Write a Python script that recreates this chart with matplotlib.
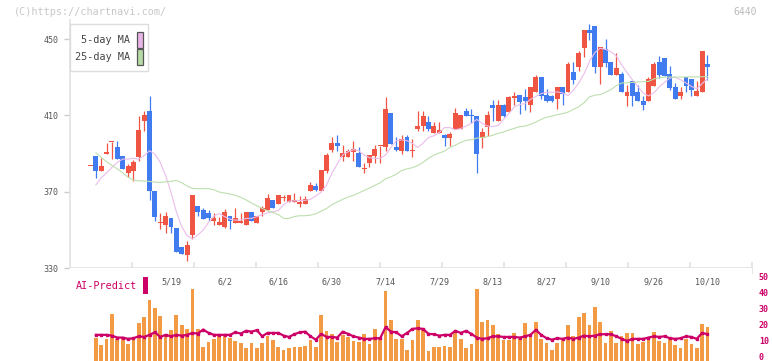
import numpy as np
import matplotlib
matplotlib.use("Agg")
import matplotlib.pyplot as plt
from matplotlib import transforms
from matplotlib.patches import Rectangle

plt.rcParams['font.family'] = ['DejaVu Sans Mono']

# candle data (oldest -> newest)
opens = [383.4, 388.7, 381.1, 390.0, 396.0, 393.4, 388.7, 380.0, 381.1, 388.3,
         407.1, 412.1, 370.5, 353.5, 352.5, 356.0, 350.8, 340.9, 336.6, 347.1,
         362.7, 360.5, 358.6, 354.6, 352.5, 351.7, 357.5, 353.5, 353.5, 352.5,
         359.5, 353.5, 359.2, 360.6, 365.8, 363.4, 366.7, 364.4, 364.4, 363.3,
         363.3, 370.2, 372.8, 370.2, 380.9, 392.0, 395.5, 388.3, 388.3, 391.0,
         390.3, 382.1, 385.1, 388.8, 393.7, 393.2, 411.0, 393.4, 391.1, 398.6,
         391.3, 402.7, 404.3, 406.4, 400.6, 400.6, 399.6, 398.1, 402.7, 402.7,
         412.1, 410.0, 409.5, 398.2, 403.9, 415.2, 406.9, 415.2, 411.7, 419.0,
         420.9, 419.4, 415.7, 422.5, 430.3, 420.9, 420.4, 418.8, 425.1, 422.5,
         432.9, 435.5, 445.3, 454.7, 456.8, 435.5, 444.8, 438.1, 431.3, 431.8,
         420.4, 428.2, 422.0, 417.3, 417.8, 425.6, 438.1, 440.1, 431.8, 425.1,
         419.9, 430.3, 429.2, 419.9, 422.5, 437.0]
highs = [383.4, 388.7, 387.7, 395.5, 396.3, 396.5, 388.7, 384.5, 386.5, 409.6,
         412.1, 420.4, 370.5, 358.9, 359.5, 356.0, 350.8, 340.9, 343.9, 368.4,
         362.7, 361.5, 360.6, 358.6, 356.5, 361.0, 357.5, 361.7, 358.6, 359.5,
         359.5, 357.5, 362.7, 369.0, 365.8, 368.4, 368.4, 368.4, 369.5, 367.8,
         367.8, 374.9, 374.8, 381.4, 390.4, 398.6, 399.6, 394.4, 392.5, 396.5,
         393.4, 385.1, 389.2, 394.4, 393.9, 419.4, 411.0, 398.6, 399.6, 399.6,
         397.5, 412.1, 412.1, 409.5, 406.4, 406.4, 400.1, 401.2, 414.1, 410.0,
         414.1, 413.1, 409.5, 403.2, 412.1, 418.3, 418.3, 416.2, 420.4, 422.0,
         420.9, 424.0, 425.1, 431.3, 430.3, 424.0, 420.9, 425.1, 425.1, 438.0,
         438.1, 443.8, 454.7, 457.8, 456.8, 445.8, 450.0, 438.1, 442.7, 432.9,
         426.1, 428.2, 426.1, 420.4, 430.3, 438.0, 441.2, 440.1, 436.0, 427.2,
         425.1, 430.3, 429.2, 428.2, 443.8, 441.7]
lows = [383.4, 377.3, 381.1, 390.0, 387.1, 387.1, 382.0, 377.8, 375.4, 386.3,
        401.8, 365.5, 354.6, 350.4, 348.2, 348.2, 338.3, 337.4, 333.8, 345.0,
        357.2, 355.6, 354.6, 352.5, 352.5, 350.9, 350.4, 353.5, 353.5, 352.5,
        354.6, 353.5, 357.0, 360.6, 361.2, 363.4, 365.3, 364.4, 364.4, 362.2,
        363.3, 370.2, 370.2, 370.2, 379.9, 390.6, 391.1, 386.1, 388.3, 386.1,
        383.0, 379.9, 383.0, 385.1, 385.1, 391.1, 394.9, 391.1, 389.8, 391.1,
        388.3, 401.8, 401.8, 401.8, 400.6, 400.6, 393.9, 393.9, 402.7, 402.7,
        409.5, 405.8, 380.0, 392.9, 399.2, 406.9, 406.9, 409.0, 411.7, 415.7,
        410.5, 412.8, 411.6, 422.5, 418.8, 416.8, 416.8, 413.6, 415.7, 422.5,
        426.6, 433.4, 440.6, 449.5, 432.3, 426.6, 435.5, 431.3, 431.3, 422.5,
        414.7, 414.7, 417.8, 412.6, 417.8, 425.6, 429.7, 430.8, 423.5, 418.8,
        418.8, 422.5, 420.4, 419.9, 422.5, 428.7]
closes = [383.4, 381.1, 383.5, 390.3, 396.3, 387.1, 382.0, 383.4, 385.6, 402.2,
          410.2, 370.2, 356.6, 353.9, 357.2, 351.3, 338.3, 337.4, 342.0, 368.4,
          359.2, 355.6, 356.0, 356.0, 353.9, 359.5, 354.6, 356.0, 354.8, 359.5,
          354.6, 357.5, 361.5, 366.9, 361.2, 368.4, 366.9, 368.4, 365.7, 364.8,
          366.0, 373.6, 371.0, 381.4, 389.2, 395.5, 394.1, 390.3, 391.3, 392.3,
          383.0, 382.3, 389.2, 392.3, 393.9, 413.1, 394.9, 392.0, 397.5, 391.1,
          391.5, 404.3, 409.5, 402.7, 404.3, 402.2, 398.1, 400.1, 411.0, 410.0,
          409.5, 409.5, 389.9, 401.2, 410.0, 413.8, 415.2, 409.5, 419.4, 420.4,
          416.9, 417.8, 425.1, 430.3, 419.9, 417.8, 417.8, 425.1, 421.4, 437.0,
          428.7, 442.7, 454.7, 453.1, 435.5, 445.8, 437.5, 431.3, 434.9, 422.5,
          422.0, 419.9, 417.8, 415.7, 429.2, 437.0, 431.3, 430.8, 424.5, 418.8,
          422.0, 425.6, 423.5, 423.0, 443.8, 435.5]

ma5 = [np.nan, 373.6, 377.3, 379.9, 382.8, 385.4, 387.1, 387.1, 387.5, 387.1,
       388.9, 391.5, 389.7, 385.4, 378.5, 369.8, 359.5, 351.7, 347.0, 345.2,
       347.3, 349.9, 353.9, 357.2, 358.6, 356.9, 355.6, 355.1, 355.1, 356.0,
       356.0, 356.9, 358.0, 358.9, 359.5, 360.1, 363.2, 365.0, 365.2, 365.4,
       365.5, 366.0, 367.8, 369.8, 373.6, 379.7, 384.5, 389.2, 390.9, 392.0,
       391.5, 389.2, 387.8, 387.5, 387.5, 389.2, 393.2, 396.7, 397.2, 396.7,
       395.3, 393.2, 395.5, 398.4, 399.3, 401.0, 403.6, 403.6, 402.4, 403.1,
       404.4, 405.8, 407.9, 405.8, 404.4, 404.1, 404.8, 407.9, 411.0, 414.5,
       415.7, 416.2, 418.3, 420.0, 421.4, 422.1, 422.1, 422.3, 421.8, 420.4,
       423.1, 427.0, 431.8, 438.2, 442.9, 445.2, 444.6, 443.4, 441.2, 436.5,
       432.5, 428.7, 425.2, 421.8, 420.2, 421.8, 424.9, 427.3, 429.6, 429.9,
       428.7, 427.0, 425.2, 423.9, 426.6, 429.2]
ma25 = [np.nan, 390.3, 388.0, 385.7, 383.7, 382.0, 379.9, 377.6, 376.1, 375.7,
        375.6, 375.4, 375.0, 374.8, 375.2, 375.4, 375.9, 374.7, 373.0, 371.7,
        371.6, 371.6, 371.6, 371.0, 369.8, 369.3, 368.8, 368.1, 367.0, 365.7,
        364.1, 362.6, 361.2, 360.0, 359.1, 358.0, 356.0, 356.0, 357.0, 357.4,
        357.4, 357.7, 358.4, 359.8, 361.2, 363.2, 364.6, 366.0, 367.2, 368.1,
        369.3, 370.7, 371.9, 373.3, 374.7, 376.8, 377.8, 379.2, 381.1, 382.0,
        382.6, 383.7, 385.4, 387.5, 389.2, 390.3, 391.3, 393.2, 394.4, 395.8,
        396.9, 397.2, 398.1, 398.4, 398.9, 399.6, 400.6, 401.3, 402.4, 403.2,
        404.1, 404.4, 405.3, 406.5, 407.9, 409.0, 409.6, 410.4, 410.9, 411.7,
        413.1, 414.5, 416.6, 419.7, 420.6, 420.9, 422.1, 423.5, 425.6, 427.0,
        427.1, 427.3, 427.5, 427.7, 427.8, 429.1, 429.7, 430.1, 430.1, 430.1,
        430.1, 430.1, 430.2, 430.2, 430.3, 430.3]

# lower panel: volume bars and AI-Predict line (right axis 0-50)
volume = [0, 11.7, 7.3, 11.1, 26.7, 11.1, 11.5, 7.9, 11.1, 21.1,
          24.8, 35.4, 30.4, 25.4, 13.1, 16.7, 26.1, 19.8, 17.3, 42.3,
          17.3, 6.1, 9.4, 11.1, 13.1, 12.7, 11.9, 10.0, 8.6, 5.4,
          8.4, 5.4, 8.6, 12.7, 10.6, 6.1, 4.4, 5.2, 6.1, 6.1,
          6.7, 10.4, 6.1, 26.1, 16.1, 14.2, 9.2, 13.6, 12.3, 9.8,
          9.2, 14.2, 7.9, 17.3, 11.1, 41.1, 22.9, 11.1, 11.1, 4.2,
          10.4, 22.9, 16.7, 3.6, 6.1, 6.1, 6.7, 6.1, 14.8, 11.1,
          5.4, 7.9, 42.3, 21.7, 22.9, 19.8, 14.2, 10.4, 10.4, 14.8,
          11.1, 21.1, 12.3, 21.7, 11.1, 8.6, 4.2, 8.6, 10.4, 19.8,
          12.9, 24.5, 27.0, 19.5, 30.8, 21.7, 8.6, 16.1, 8.6, 12.9,
          14.8, 14.8, 7.9, 9.2, 11.7, 15.4, 9.8, 8.6, 11.1, 7.3,
          5.4, 11.1, 7.9, 5.4, 20.4, 18.5]
ai_predict = [np.nan, 13.6, 13.6, 13.6, 13.1, 11.9, 11.9, 11.1, 11.5, 12.7,
              12.3, 13.6, 15.2, 12.3, 13.6, 12.7, 13.6, 13.1, 13.6, 14.8,
              14.4, 16.9, 14.8, 13.6, 13.6, 13.6, 13.6, 15.2, 14.4, 16.1,
              15.6, 16.5, 12.7, 14.8, 14.8, 14.8, 13.1, 12.3, 14.0, 15.2,
              15.6, 12.7, 10.6, 14.2, 12.3, 12.3, 11.9, 15.6, 14.2, 12.7,
              11.9, 11.1, 11.1, 11.5, 11.5, 18.4, 15.6, 15.2, 12.7, 14.8,
              17.3, 17.7, 17.3, 14.2, 14.0, 13.1, 13.6, 13.6, 16.1, 14.8,
              16.1, 14.2, 11.9, 11.1, 11.5, 12.7, 12.7, 12.3, 12.3, 12.3,
              11.9, 12.7, 13.6, 16.7, 13.6, 11.5, 10.6, 11.5, 11.1, 11.9,
              11.1, 11.9, 13.1, 12.7, 13.1, 14.0, 14.0, 14.0, 12.7, 11.1,
              9.8, 11.1, 11.1, 11.1, 11.9, 12.7, 12.3, 12.7, 11.5, 11.1,
              11.5, 12.7, 12.3, 11.1, 14.8, 14.0]

date_labels = ['5/19', '6/2', '6/16', '6/30', '7/14', '7/29', '8/13', '8/27',
               '9/10', '9/26', '10/10']
date_pos = [15, 25, 35, 45, 55, 65, 75, 85, 95, 105, 115]
price_ticks = [330, 370, 410, 450]
ai_ticks = [0, 10, 20, 30, 40, 50]

UP = '#f05442'
DOWN = '#417bf0'
CRIMSON = '#cc0066'
GRAY_LINE = '#e2e2e2'

W, H = 772, 361
fig = plt.figure(figsize=(W / 100, H / 100), dpi=100)

def fbox(x0, y0, x1, y1):
    # pixel box (top-left origin) -> figure fraction [l, b, w, h]
    return [x0 / W, 1 - y1 / H, (x1 - x0) / W, (y1 - y0) / H]

idx = np.arange(len(closes))
o = np.array(opens); c = np.array(closes)
up = c >= o
colors = np.where(up, UP, DOWN)
xlim = (-3.82, 123.3)

# ---- price panel
ax = fig.add_axes(fbox(70, 20, 752, 268))
ax.set_xlim(*xlim)
ax.set_ylim(330, 460)
ax.vlines(idx, lows, highs, colors=colors, linewidth=0.9, zorder=2)
body_h = np.maximum(np.abs(c - o), 0.55)
ax.bar(idx, body_h, bottom=np.minimum(o, c), width=0.92, color=colors,
       linewidth=0, zorder=3)
ax.plot(idx, ma5, color='#ebbdeb', linewidth=0.8, zorder=4)
ax.plot(idx, ma25, color='#bddfae', linewidth=0.8, zorder=4)

for s in ['top', 'right']:
    ax.spines[s].set_visible(False)
for s in ['left', 'bottom']:
    ax.spines[s].set_color(GRAY_LINE)
    ax.spines[s].set_linewidth(1.2)
span = xlim[1] - xlim[0]
ax.set_xticks([xlim[0] + k * span / 11 for k in range(1, 12)])
ax.set_xticklabels([])
ax.tick_params(axis='x', direction='inout', length=8, width=1.2, color=GRAY_LINE)
ax.set_yticks(price_ticks)
ax.set_yticklabels([str(t) for t in price_ticks])
ax.tick_params(axis='y', length=4, width=1, color='#cccccc', labelsize=6,
               labelcolor='#555555', pad=4)

# ---- lower panel
ax2 = fig.add_axes(fbox(70, 268, 752, 361))
ax2.set_xlim(*xlim)
ylo = -2.7
yhi = ylo + 93 / 1.604
ax2.set_ylim(ylo, yhi)
vol = np.array(volume)
bar_h = np.where(vol > 0, vol - ylo, 0)
ax2.bar(idx, bar_h, bottom=ylo, width=0.69, color='#f39a45', linewidth=0)
ax2.plot(idx, ai_predict, color=CRIMSON, linewidth=1.6, marker='s',
         markersize=1.6, zorder=3)
for s in ax2.spines.values():
    s.set_visible(False)
ax2.set_xticks([])
ax2.yaxis.tick_right()
ax2.set_yticks(ai_ticks)
ax2.set_yticklabels([str(t) for t in ai_ticks])
ax2.tick_params(axis='y', length=0, pad=5, labelsize=6, labelcolor=CRIMSON)
for lab in ax2.get_yticklabels():
    lab.set_fontweight('bold')

# date labels
tr = transforms.blended_transform_factory(ax2.transData, fig.transFigure)
for p, lab in zip(date_pos, date_labels):
    ax2.text(p, 1 - 282 / H, lab, transform=tr, ha='center', va='center',
             fontsize=6, color='#555555')

fig.text(76 / W, 1 - 286 / H, 'AI-Predict', ha='left', va='center',
         fontsize=7.3, color=CRIMSON)
fig.patches.append(Rectangle((143 / W, 1 - 294 / H), 5 / W, 17 / H,
                             transform=fig.transFigure, facecolor=CRIMSON,
                             edgecolor='none'))

# legend box
fig.patches.append(Rectangle((70 / W, 1 - 71 / H), 78 / W, 47 / H,
                             transform=fig.transFigure, facecolor='white',
                             edgecolor='#dddddd', linewidth=1, zorder=10))
for y, name, col in [(40, '5-day MA', '#e8b4e8'), (57, '25-day MA', '#b6dca6')]:
    fig.text(130 / W, 1 - y / H, name, ha='right', va='center', fontsize=7.3,
             color='#444444', zorder=11)
    fig.patches.append(Rectangle((137 / W, 1 - (y + 7.5) / H), 6 / W, 15 / H,
                                 transform=fig.transFigure, facecolor=col,
                                 edgecolor='#555555', linewidth=0.9, zorder=11))

fig.text(14 / W, 1 - 12 / H, '(C)https://chartnavi.com/', ha='left',
         va='center', fontsize=7.3, color='#c8c8c8')
fig.text(757 / W, 1 - 12 / H, '6440', ha='right', va='center', fontsize=7,
         color='#bbbbbb')

fig.savefig('out.png', dpi=100)
